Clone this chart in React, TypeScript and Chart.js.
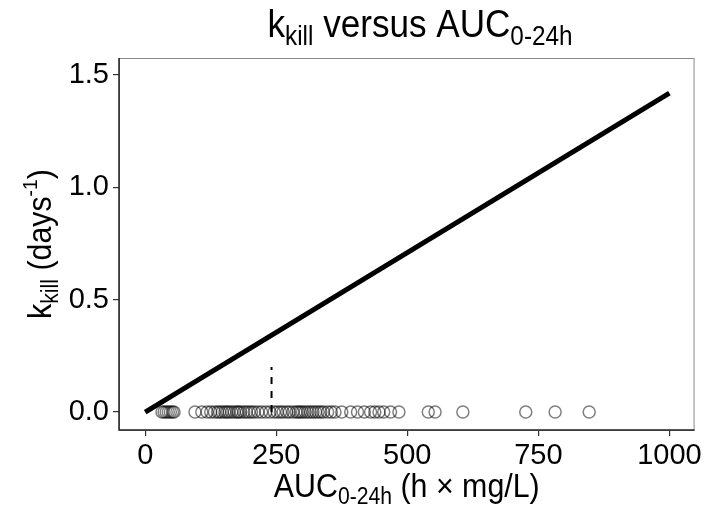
import React, { useEffect, useRef } from "react";
import { Chart, registerables } from "chart.js";

Chart.register(...registerables);

const aucValues: number[] = [
  32, 36, 40, 44, 48, 52, 55,
  95, 108, 118, 125, 132, 138, 142, 147, 152, 156, 160, 165, 170, 175, 178, 182, 188,
  193, 198, 203, 208, 215, 222, 230, 238, 246, 252, 258, 263, 270, 275, 282, 288, 292,
  296, 300, 305, 310, 315, 320, 325, 330, 335, 340, 348, 355, 362, 375, 392, 405, 418,
  430, 438, 446, 455, 468, 484, 540, 553, 606, 726, 782, 847,
];
const lineX: number[] = [0, 1000];
const lineY: number[] = [0, 1.42];
const cutoffX: number[] = [241, 241];
const cutoffY: number[] = [0, 0.2];
const xTicks: number[] = [0, 250, 500, 750, 1000];
const yTicks: number[] = [0, 0.5, 1.0, 1.5];

const FONT = "'Liberation Sans', Arial, sans-serif";

type Seg = { t: string; s: number; dy?: number };

function drawRich(ctx: CanvasRenderingContext2D, segs: Seg[], cx: number, baseY: number, sx: number) {
  ctx.save();
  ctx.translate(cx, baseY);
  ctx.scale(sx, 1);
  let total = 0;
  const widths = segs.map((sg) => {
    ctx.font = `${sg.s}px ${FONT}`;
    const w = ctx.measureText(sg.t).width;
    total += w;
    return w;
  });
  let x = -total / 2;
  ctx.textAlign = "left";
  ctx.textBaseline = "alphabetic";
  segs.forEach((sg, i) => {
    ctx.font = `${sg.s}px ${FONT}`;
    ctx.fillText(sg.t, x, sg.dy || 0);
    x += widths[i];
  });
  ctx.restore();
}

const decorPlugin = {
  id: "decor",
  afterDatasetsDraw(chart: any) {
    const { ctx, chartArea } = chart;
    const { left, right, top, bottom } = chartArea;
    ctx.save();
    ctx.strokeStyle = "#8a8a8a";
    ctx.lineWidth = 1;
    ctx.strokeRect(left + 0.5, top + 0.5, right - left - 1, bottom - top);
    ctx.strokeStyle = "#222";
    ctx.lineWidth = 1.5;
    ctx.beginPath();
    ctx.moveTo(left, top);
    ctx.lineTo(left, bottom);
    ctx.lineTo(right, bottom);
    ctx.stroke();
    ctx.fillStyle = "#000";
    // Title
    drawRich(
      ctx,
      [
        { t: "k", s: 39 },
        { t: "kill", s: 27, dy: 8 },
        { t: " versus AUC", s: 39 },
        { t: "0-24h", s: 27, dy: 8 },
      ],
      420,
      37,
      0.9
    );
    // X title
    drawRich(
      ctx,
      [
        { t: "AUC", s: 33 },
        { t: "0-24h", s: 23, dy: 7 },
        { t: " (h \u00d7 mg/L)", s: 33 },
      ],
      (left + right) / 2,
      497,
      0.92
    );
    // Y title
    ctx.translate(51, (top + bottom) / 2);
    ctx.rotate(-Math.PI / 2);
    drawRich(
      ctx,
      [
        { t: "k", s: 33 },
        { t: "kill", s: 23, dy: 7 },
        { t: " (days", s: 33 },
        { t: "-1", s: 21, dy: -14 },
        { t: ")", s: 33 },
      ],
      0,
      0,
      0.92
    );
    ctx.restore();
  },
};

export default function App() {
  const ref = useRef<HTMLCanvasElement | null>(null);
  useEffect(() => {
    if (!ref.current) return;
    const chart = new Chart(ref.current, {
      type: "scatter",
      data: {
        datasets: [
          {
            data: aucValues.map((v) => ({ x: v, y: 0 })),
            showLine: false,
            pointStyle: "circle",
            pointRadius: 6,
            backgroundColor: "rgba(0,0,0,0)",
            borderColor: "rgba(0,0,0,0.5)",
            borderWidth: 1.5,
            order: 3,
          },
          {
            data: lineX.map((x, i) => ({ x, y: lineY[i] })),
            showLine: true,
            pointRadius: 0,
            borderColor: "#000",
            borderWidth: 5,
            order: 1,
          },
          {
            data: cutoffX.map((x, i) => ({ x, y: cutoffY[i] })),
            showLine: true,
            pointRadius: 0,
            borderColor: "#000",
            borderWidth: 2,
            borderDash: [7, 7],
            order: 2,
          },
        ],
      },
      options: {
        animation: false,
        responsive: false,
        layout: { padding: { top: 58, right: 8, left: 0, bottom: 0 } },
        plugins: { legend: { display: false }, tooltip: { enabled: false }, title: { display: false } },
        scales: {
          x: {
            type: "linear",
            min: -50,
            max: 1048,
            afterBuildTicks: (s: any) => {
              s.ticks = xTicks.map((v) => ({ value: v }));
            },
            afterFit: (s: any) => {
              s.height = 76;
            },
            border: { display: false },
            grid: { drawOnChartArea: false, drawTicks: true, tickLength: 6, color: "#333", lineWidth: 1.2 },
            ticks: {
              color: "#000",
              padding: 3,
              maxRotation: 0,
              font: { size: 29, family: FONT },
              callback: (v: any) => String(v),
            },
          },
          y: {
            type: "linear",
            min: -0.08,
            max: 1.576,
            afterBuildTicks: (s: any) => {
              s.ticks = yTicks.map((v) => ({ value: v }));
            },
            afterFit: (s: any) => {
              s.width = 119;
            },
            border: { display: false },
            grid: { drawOnChartArea: false, drawTicks: true, tickLength: 6, color: "#333", lineWidth: 1.2 },
            ticks: {
              color: "#000",
              padding: 4,
              font: { size: 29, family: FONT },
              callback: (v: any) => Number(v).toFixed(1),
            },
          },
        },
      },
      plugins: [decorPlugin],
    });
    return () => chart.destroy();
  }, []);
  return (
    <div style={{ position: "absolute", left: 0, top: 0, width: 705, height: 506 }}>
      <canvas ref={ref} width={705} height={506} />
    </div>
  );
}
